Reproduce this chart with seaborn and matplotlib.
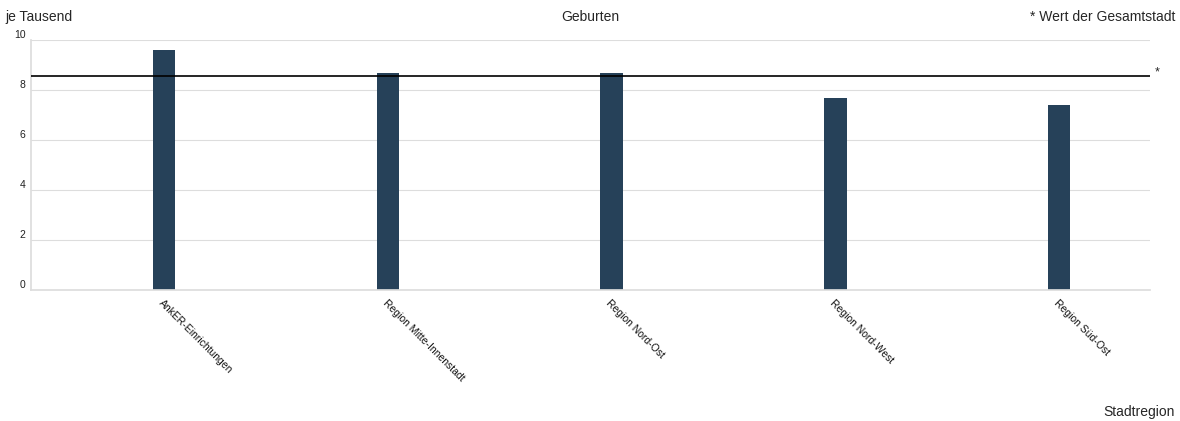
import pandas as pd
import seaborn as sns
from matplotlib import pyplot as plt

regions = ["AnkER-Einrichtungen", "Region Mitte-Innenstadt", "Region Nord-Ost",
           "Region Nord-West", "Region Süd-Ost"]
births = [9.6, 8.7, 8.7, 7.7, 7.4]
city_value = 8.55
yticks = [0, 2, 4, 6, 8, 10]

sns.set_theme(style="white")
plt.rcParams['font.family'] = ['Liberation Sans', 'DejaVu Sans']

df = pd.DataFrame({'region': regions, 'value': births})

fig = plt.figure(figsize=(11.8, 4.21), dpi=100)
ax = fig.add_axes([31/1180, 131/421, 1119/1180, 250/421])

sns.barplot(data=df, x='region', y='value', color='#264159', width=0.1,
            saturation=1, linewidth=0, ax=ax)

ax.axhline(city_value, color='black', linewidth=1.2, zorder=3)
ax.text(1.004, city_value + 0.15, '*', transform=ax.get_yaxis_transform(),
        fontsize=9, ha='left', va='center')

ax.set_ylim(0, 10)
# bars sit a little right of the band centre in the original
ax.set_xlim(-0.594, 4.406)
ax.set_yticks(yticks)
ax.set_yticklabels([str(t) for t in yticks], fontsize=7.5, color='#222222')
ax.yaxis.grid(True, color='#dddddd', linewidth=0.8)
ax.set_axisbelow(True)
ax.tick_params(axis='y', length=0, pad=4)
ax.tick_params(axis='x', length=0, pad=6)
ax.set_xticks(range(len(regions)))
ax.set_xticklabels(regions, rotation=-45, ha='left', va='top',
                   rotation_mode='anchor', fontsize=7.5, color='#111111')
for lab in ax.get_yticklabels():
    lab.set_verticalalignment('bottom')

for side in ['top', 'right']:
    ax.spines[side].set_visible(False)
ax.spines['left'].set_color('#dddddd')
ax.spines['bottom'].set_color('#dddddd')
ax.set_xlabel('')
ax.set_ylabel('')

fig.text(5/1180, 1 - 17/421, 'je Tausend', fontsize=10, ha='left', va='center')
fig.text(590/1180, 1 - 17/421, 'Geburten', fontsize=10, ha='center', va='center')
fig.text(1175/1180, 1 - 17/421, '* Wert der Gesamtstadt', fontsize=10,
         ha='right', va='center')
fig.text(1175/1180, 1 - 412/421, 'Stadtregion', fontsize=10, ha='right',
         va='center')

fig.savefig('out.png', dpi=100)
plt.close(fig)
